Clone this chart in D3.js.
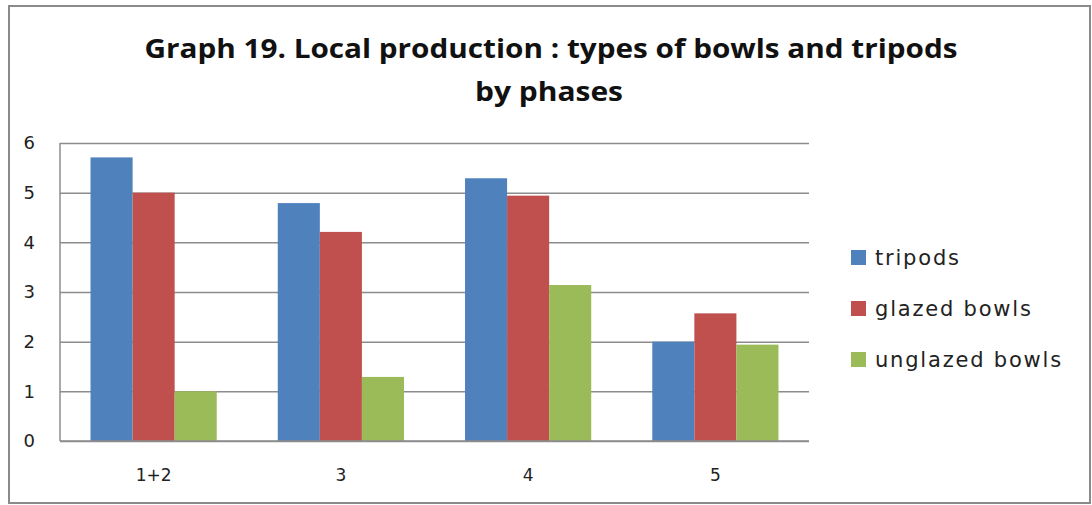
<!DOCTYPE html>
<html>
<head>
<meta charset="utf-8">
<script src="https://cdn.jsdelivr.net/npm/d3@7"></script>
<style>
  body { margin: 0; background: #fff; }
  svg { display: block; }
</style>
</head>
<body>
<div id="chartArea"></div>
<script>
// data
var phases = ["1+2", "3", "4", "5"];
var seriesNames = ["tripods", "glazed bowls", "unglazed bowls"];
var tripods = [5.71, 4.79, 5.29, 2.0];
var glazedBowls = [5.0, 4.21, 4.94, 2.57];
var unglazedBowls = [1.0, 1.29, 3.14, 1.94];
var yTicks = [0, 1, 2, 3, 4, 5, 6];
var titleLines = ["Graph 19. Local production : types of bowls and tripods", "by phases"];

var colours = ["#4f81bd", "#c0504d", "#9bbb59"];
var seriesValues = [tripods, glazedBowls, unglazedBowls];

var width = 1092, height = 505;
var plot = {left: 60, right: 809, top: 143, bottom: 441};

var svg = d3.select("#chartArea")
    .append("svg")
    .attr("width", width)
    .attr("height", height);

// outer frame
svg.append("rect")
    .attr("x", 9).attr("y", 6)
    .attr("width", 1081).attr("height", 497)
    .attr("fill", "#fff")
    .attr("stroke", "#8a8a8a")
    .attr("stroke-width", 2);

// title - squeezed a bit to look like the narrow original face
var title = svg.append("g").attr("font-family", "'Open Sans', sans-serif")
    .attr("font-weight", "bold").attr("fill", "#111").attr("text-anchor", "middle");
title.append("text").attr("x", 551).attr("y", 58).attr("font-size", 27)
    .attr("textLength", 813).attr("lengthAdjust", "spacingAndGlyphs")
    .text(titleLines[0]);
title.append("text").attr("x", 549).attr("y", 101).attr("font-size", 27)
    .attr("textLength", 148).attr("lengthAdjust", "spacingAndGlyphs")
    .text(titleLines[1]);

var y = d3.scaleLinear().domain([0, 6]).range([plot.bottom, plot.top]);
var x0 = d3.scaleBand().domain(phases).range([plot.left, plot.right])
    .paddingInner(0.326).paddingOuter(0.163);
var x1 = d3.scaleBand().domain(seriesNames).range([0, x0.bandwidth()]);

// gridlines + y labels
var yAxis = svg.append("g")
    .attr("transform", "translate(" + plot.left + ",0)")
    .call(d3.axisLeft(y).tickValues(yTicks).tickFormat(d3.format("d"))
        .tickSize(-(plot.right - plot.left)).tickPadding(25));
yAxis.select(".domain").remove();
yAxis.selectAll(".tick line").attr("stroke", "#8c8c8c").attr("stroke-width", 1.5);
yAxis.selectAll(".tick text")
    .attr("font-family", "'DejaVu Sans', sans-serif")
    .attr("font-size", 18).attr("fill", "#222");

// left axis line
svg.append("line")
    .attr("x1", plot.left).attr("x2", plot.left)
    .attr("y1", plot.top).attr("y2", plot.bottom)
    .attr("stroke", "#8c8c8c").attr("stroke-width", 1.5);

// bars
var groups = svg.append("g").selectAll("g")
    .data(phases)
    .join("g")
    .attr("transform", function (d) { return "translate(" + x0(d) + ",0)"; });

groups.selectAll("rect")
    .data(function (d, i) {
        return seriesNames.map(function (s, j) { return {series: s, value: seriesValues[j][i], k: j}; });
    })
    .join("rect")
    .attr("x", function (d) { return x1(d.series); })
    .attr("width", x1.bandwidth())
    .attr("y", function (d) { return y(d.value); })
    .attr("height", function (d) { return y(0) - y(d.value); })
    .attr("fill", function (d) { return colours[d.k]; });

// baseline on top of bars
svg.append("line")
    .attr("x1", plot.left).attr("x2", plot.right)
    .attr("y1", y(0)).attr("y2", y(0))
    .attr("stroke", "#8c8c8c").attr("stroke-width", 1.5);

// x labels
var xAxis = svg.append("g")
    .attr("transform", "translate(0," + plot.bottom + ")")
    .call(d3.axisBottom(x0).tickSize(0).tickPadding(28));
xAxis.select(".domain").remove();
xAxis.selectAll(".tick text")
    .attr("font-family", "'DejaVu Sans', sans-serif")
    .attr("font-size", 17).attr("fill", "#222");

// legend
var legend = svg.append("g").selectAll("g")
    .data(seriesNames)
    .join("g")
    .attr("transform", function (d, i) { return "translate(851," + (250 + i * 51) + ")"; });
legend.append("rect")
    .attr("width", 15).attr("height", 15)
    .attr("fill", function (d, i) { return colours[i]; });
legend.append("text")
    .attr("x", 24).attr("y", 15)
    .attr("font-family", "'DejaVu Sans', sans-serif")
    .attr("font-size", 21).attr("letter-spacing", 1.8).attr("fill", "#222")
    .text(function (d) { return d; });
</script>
</body>
</html>
